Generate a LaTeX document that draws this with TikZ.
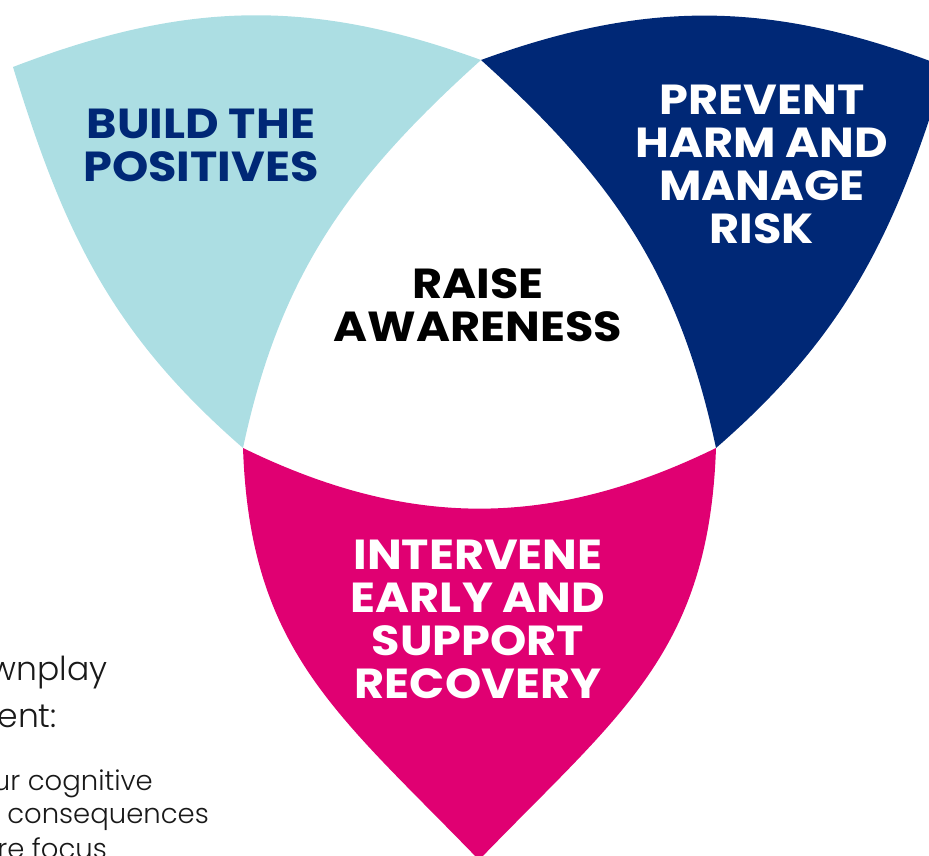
\documentclass[tikz,border=0pt]{standalone}
\usepackage{fontspec}
\setmainfont{Poppins}
\newfontfamily\headfont{Poppins}[FakeStretch=1.1]
\newfontfamily\bodyfont{Poppins Light}
\usepackage{xcolor}
\definecolor{petalteal}{RGB}{172,222,227}
\definecolor{petalnavy}{RGB}{0,40,118}
\definecolor{petalpink}{RGB}{224,0,114}
\definecolor{bodygrey}{RGB}{25,25,25}

\begin{document}
\begin{tikzpicture}[x=1pt,y=1pt,
  heading/.style={font=\headfont\bfseries\fontsize{42}{43}\selectfont, align=center, inner sep=0pt},
  bigtext/.style={font=\bodyfont\fontsize{33}{40}\selectfont, text=bodygrey, inner sep=0pt, anchor=base east},
  smalltext/.style={font=\bodyfont\fontsize{27.5}{30}\selectfont, text=bodygrey, inner sep=0pt, anchor=base east}]

\useasboundingbox (0,0) rectangle (929,-856);
\clip (0,0) rectangle (929,-856);

% corners of the middle triangle and the three tips
\coordinate (top) at (481,-60);
\coordinate (left) at (243,-448);
\coordinate (right) at (716,-448);
\coordinate (tipbuild) at (13,-67);
\coordinate (tipprevent) at (946,-67);
\coordinate (tipintervene) at (479,-860);

\fill[petalteal] (tipbuild) to[out=21,in=160] (top) to[out=222,in=78] (left)
  to[out=139,in=-73] (tipbuild) -- cycle;
\fill[petalnavy] (top) to[out=20,in=159] (tipprevent) to[out=253,in=41] (right)
  to[out=102,in=-42] (top) -- cycle;
\fill[petalpink] (left) to[out=-26,in=206] (right) to[out=268,in=46,looseness=1.1] (tipintervene)
  to[out=134,in=-88,looseness=1.1] (left) -- cycle;

\node[heading, text=petalnavy] (build) at (201,-145) {BUILD THE\\POSITIVES};
\node[heading, text=white] (prevent) at (762,-164) {PREVENT\\HARM AND\\MANAGE\\RISK};
\node[heading, text=black] (raise) at (478,-305) {RAISE\\AWARENESS};
\node[heading, text=white] (intervene) at (478,-619) {INTERVENE\\EARLY AND\\SUPPORT\\RECOVERY};

% text of the page beside the picture
\node[bigtext] (downplay) at (108,-680) {wnplay};
\node[bigtext] (judgement) at (57,-727) {ent:};
\node[smalltext] (cognitive) at (153,-790) {ur cognitive};
\node[smalltext] (consequences) at (209,-823) {consequences};
\node[smalltext] (focus) at (107,-858) {re focus};
\end{tikzpicture}
\end{document}
